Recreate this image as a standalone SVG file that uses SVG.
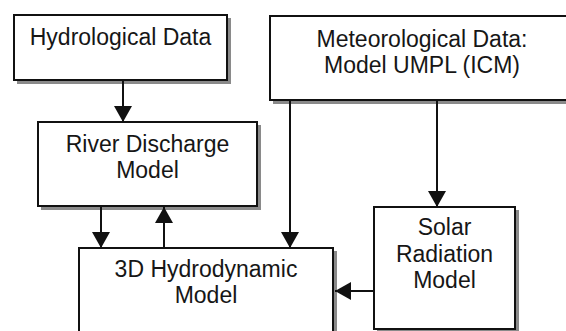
<svg xmlns="http://www.w3.org/2000/svg" width="566" height="331" viewBox="0 0 566 331">
<style>
.shadow{fill:#8a8a8a;stroke:none}
.box{fill:#fff;stroke:#111;stroke-width:2}
.lbl{font-family:"Liberation Sans",Arial,sans-serif;font-size:23px;fill:#161616;text-anchor:middle}
.conn{stroke:#111;stroke-width:2;fill:none;marker-end:url(#arr)}
</style>
<defs>
<marker id="arr" viewBox="0 0 16 18" refX="16" refY="9" markerWidth="16" markerHeight="18" markerUnits="userSpaceOnUse" orient="auto">
<path d="M0,0 L16,9 L0,18 z" fill="#111"/>
</marker>
</defs>
<rect width="566" height="331" fill="#fff"/>
<g id="hydrological-data">
<rect class="shadow" x="17" y="18" width="214" height="66"/>
<rect class="box" x="14" y="15" width="213" height="65"/>
<text class="lbl" x="120.5" y="45">Hydrological Data</text>
</g>
<g id="meteorological-data">
<rect class="shadow" x="273" y="19" width="310" height="85"/>
<rect class="box" x="270" y="16" width="305" height="84"/>
<text class="lbl" x="422" y="47">Meteorological Data:</text>
<text class="lbl" x="422" y="73">Model UMPL (ICM)</text>
</g>
<g id="river-discharge">
<rect class="shadow" x="41" y="125" width="220" height="85"/>
<rect class="box" x="38" y="122" width="219" height="84"/>
<text class="lbl" x="147.5" y="152">River Discharge</text>
<text class="lbl" x="147.5" y="178">Model</text>
</g>
<g id="hydrodynamic">
<rect class="shadow" x="82" y="251" width="255" height="100"/>
<rect class="box" x="79" y="248" width="254" height="100"/>
<text class="lbl" x="206" y="277">3D Hydrodynamic</text>
<text class="lbl" x="206" y="303">Model</text>
</g>
<g id="solar-radiation">
<rect class="shadow" x="377" y="210" width="142" height="123"/>
<rect class="box" x="374" y="207" width="141" height="122"/>
<text class="lbl" x="444.5" y="235">Solar</text>
<text class="lbl" x="444.5" y="262">Radiation</text>
<text class="lbl" x="444.5" y="288">Model</text>
</g>
<g id="connectors">
<path class="conn" d="M123,81 L123,122"/>
<path class="conn" d="M101,207 L101,248"/>
<path class="conn" d="M164,247 L164,207"/>
<path class="conn" d="M290,101 L290,248"/>
<path class="conn" d="M437,101 L437,207"/>
<path class="conn" d="M373,291 L335,291"/>
</g>
</svg>
